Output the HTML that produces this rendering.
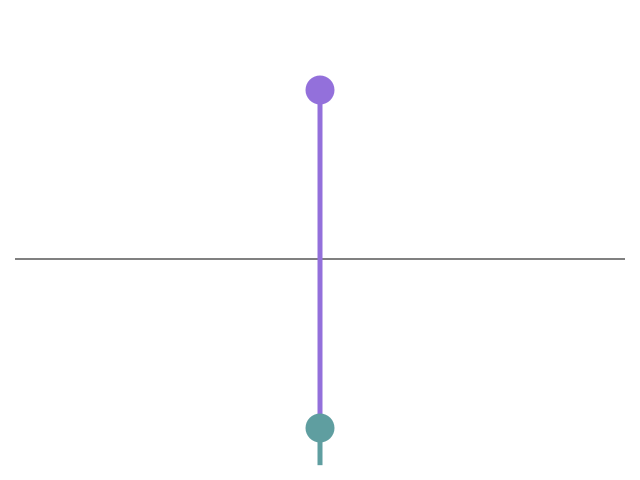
<!DOCTYPE html>
<html><head><meta charset="utf-8"><style>body{margin:0;background:#fff}svg{display:block}</style></head>
<body>
<svg id="chart" width="640" height="480" viewBox="0 0 640 480">
<line x1="15" y1="259" x2="625" y2="259" stroke="#808080" stroke-width="2"/>
<g id="marks"></g>
</svg>
<script>
const categories = ["A"];
const seriesTop = [1.0];
const seriesBottom = [-1.0];
const bottomEnd = -1.22;
function y(v){ return 259 - v*169; }
function x(i){ return 320 + (i - (categories.length-1)/2)*100; }
const g = document.getElementById('marks');
const NS = 'http://www.w3.org/2000/svg';
categories.forEach((c,i)=>{
  const l2 = document.createElementNS(NS,'line');
  
  
  l2.setAttribute('x1',x(i));l2.setAttribute('x2',x(i));
  l2.setAttribute('y1',y(seriesBottom[i]));l2.setAttribute('y2',y(bottomEnd));
  l2.setAttribute('stroke','#5f9ea0');l2.setAttribute('stroke-width','5');
  g.appendChild(l2);
  const l1 = document.createElementNS(NS,'line');
  
  
  l1.setAttribute('x1',x(i));l1.setAttribute('x2',x(i));
  l1.setAttribute('y1',y(seriesTop[i]));l1.setAttribute('y2',y(seriesBottom[i]));
  l1.setAttribute('stroke','#9370db');l1.setAttribute('stroke-width','5');
  g.appendChild(l1);
  const c1 = document.createElementNS(NS,'circle');
  
  
  c1.setAttribute('cx',x(i));c1.setAttribute('cy',y(seriesTop[i]));c1.setAttribute('r','14.5');
  c1.setAttribute('fill','#9370db');
  g.appendChild(c1);
  const c2 = document.createElementNS(NS,'circle');
  
  
  c2.setAttribute('cx',x(i));c2.setAttribute('cy',y(seriesBottom[i]));c2.setAttribute('r','14.5');
  c2.setAttribute('fill','#5f9ea0');
  g.appendChild(c2);
});
</script>
</body></html>
